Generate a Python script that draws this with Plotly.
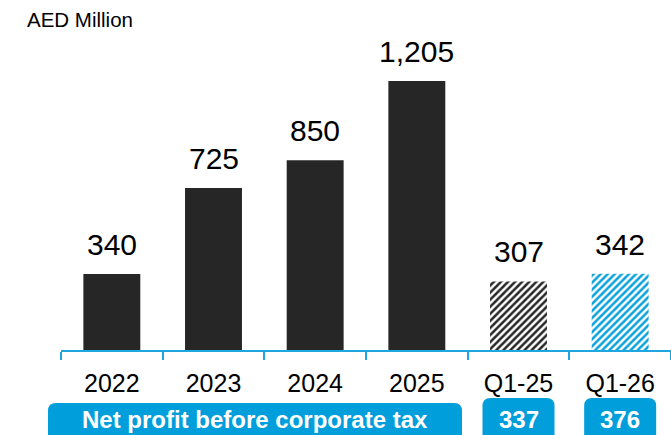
import plotly.graph_objects as go

# ---- data ----
categories = ["2022", "2023", "2024", "2025", "Q1-25", "Q1-26"]
values = [340, 725, 850, 1205, 307, 342]
value_labels = ["340", "725", "850", "1,205", "307", "342"]
annual_cats = ["2022", "2023", "2024", "2025"]
annual_vals = [340, 725, 850, 1205]
q125_cats = ["Q1-25"]
q125_vals = [307]
q126_cats = ["Q1-26"]
q126_vals = [342]
npbt_label = "Net profit before corporate tax"
npbt_quarters = ["Q1-25", "Q1-26"]
npbt_values = [337, 376]
unit_label = "AED Million"

# ---- styling ----
FONT = "Liberation Sans, Arial, sans-serif"
DARK = "#262626"
BLUE = "#009edb"
AXIS_BLUE = "#1fa6df"
HATCH_BLUE = "#0aa2dd"

W, H = 671, 435
ML, MR, MT, MB = 61, 0, 50, 85
PW, PH = W - ML - MR, H - MT - MB
YMAX = PH / 0.2233

fig = go.Figure()
fig.add_trace(go.Bar(x=annual_cats, y=annual_vals, width=0.56,
                     marker=dict(color=DARK, line=dict(width=0)), hoverinfo="skip"))
fig.add_trace(go.Bar(x=q125_cats, y=q125_vals, width=0.56,
                     marker=dict(color="white", line=dict(width=0),
                                 pattern=dict(shape="/", fgcolor=DARK, bgcolor="white",
                                              size=5, solidity=0.5, fgopacity=1)),
                     hoverinfo="skip"))
fig.add_trace(go.Bar(x=q126_cats, y=q126_vals, width=0.56,
                     marker=dict(color="white", line=dict(width=0),
                                 pattern=dict(shape="/", fgcolor=HATCH_BLUE, bgcolor="white",
                                              size=5, solidity=0.5, fgopacity=1)),
                     hoverinfo="skip"))

# value labels above bars (category index positions)
for i, (v, t) in enumerate(zip(values, value_labels)):
    fig.add_annotation(x=i, y=v, xref="x", yref="y", text=t, showarrow=False,
                       yanchor="bottom", yshift=11,
                       font=dict(family=FONT, size=30, color="black"))

# unit label
fig.add_annotation(x=(25 - ML) / PW, y=(MT + PH - 19) / PH, xref="paper", yref="paper",
                   text=unit_label, showarrow=False, xanchor="left", yanchor="middle",
                   font=dict(family=FONT, size=20.5, color="black"))


def px2paper(px, py):
    return (px - ML) / PW, (MT + PH - py) / PH


def rounded_box(x0, y0, x1, y1, r=8):
    rx, ry = r / PW, r / PH
    a0, b0 = px2paper(x0, y1)
    a1, b1 = px2paper(x1, y0)
    path = (f"M {a0+rx},{b1} L {a1-rx},{b1} Q {a1},{b1} {a1},{b1-ry} "
            f"L {a1},{b0+ry} Q {a1},{b0} {a1-rx},{b0} L {a0+rx},{b0} "
            f"Q {a0},{b0} {a0},{b0+ry} L {a0},{b1-ry} Q {a0},{b1} {a0+rx},{b1} Z")
    fig.add_shape(type="path", path=path, xref="paper", yref="paper",
                  fillcolor=BLUE, line=dict(width=0), layer="above")


cat_w = PW / len(categories)


def cat_center_px(cat):
    return ML + (categories.index(cat) + 0.5) * cat_w


# main label box
rounded_box(48, 403, 462, 448)
cx, cy = px2paper((48 + 462) / 2, 419)
fig.add_annotation(x=cx, y=cy, xref="paper", yref="paper", text=f"<b>{npbt_label}</b>",
                   showarrow=False, xanchor="center", yanchor="middle",
                   font=dict(family=FONT, size=24, color="white"))

# quarter value boxes
for q, v in zip(npbt_quarters, npbt_values):
    c = cat_center_px(q)
    rounded_box(c - 36, 398, c + 36, 448)
    bx, by = px2paper(c, 419)
    fig.add_annotation(x=bx, y=by, xref="paper", yref="paper", text=f"<b>{v}</b>",
                       showarrow=False, xanchor="center", yanchor="middle",
                       font=dict(family=FONT, size=24, color="white"))

fig.update_layout(
    width=W, height=H,
    margin=dict(l=ML, r=MR, t=MT, b=MB, pad=0),
    paper_bgcolor="white", plot_bgcolor="white",
    showlegend=False,
    barmode="overlay",
    xaxis=dict(
        type="category", range=[-0.5, 5.5],
        categoryorder="array", categoryarray=categories,
        showline=True, linecolor=AXIS_BLUE, linewidth=2,
        ticks="outside", tickson="boundaries", ticklen=8, tickwidth=2, tickcolor=AXIS_BLUE,
        ticklabelstandoff=10,
        tickfont=dict(family=FONT, size=25, color="black"),
        showgrid=False, zeroline=False, fixedrange=True,
    ),
    yaxis=dict(range=[0, YMAX], visible=False, showgrid=False, zeroline=False, fixedrange=True),
)

fig.write_html("out.html")
